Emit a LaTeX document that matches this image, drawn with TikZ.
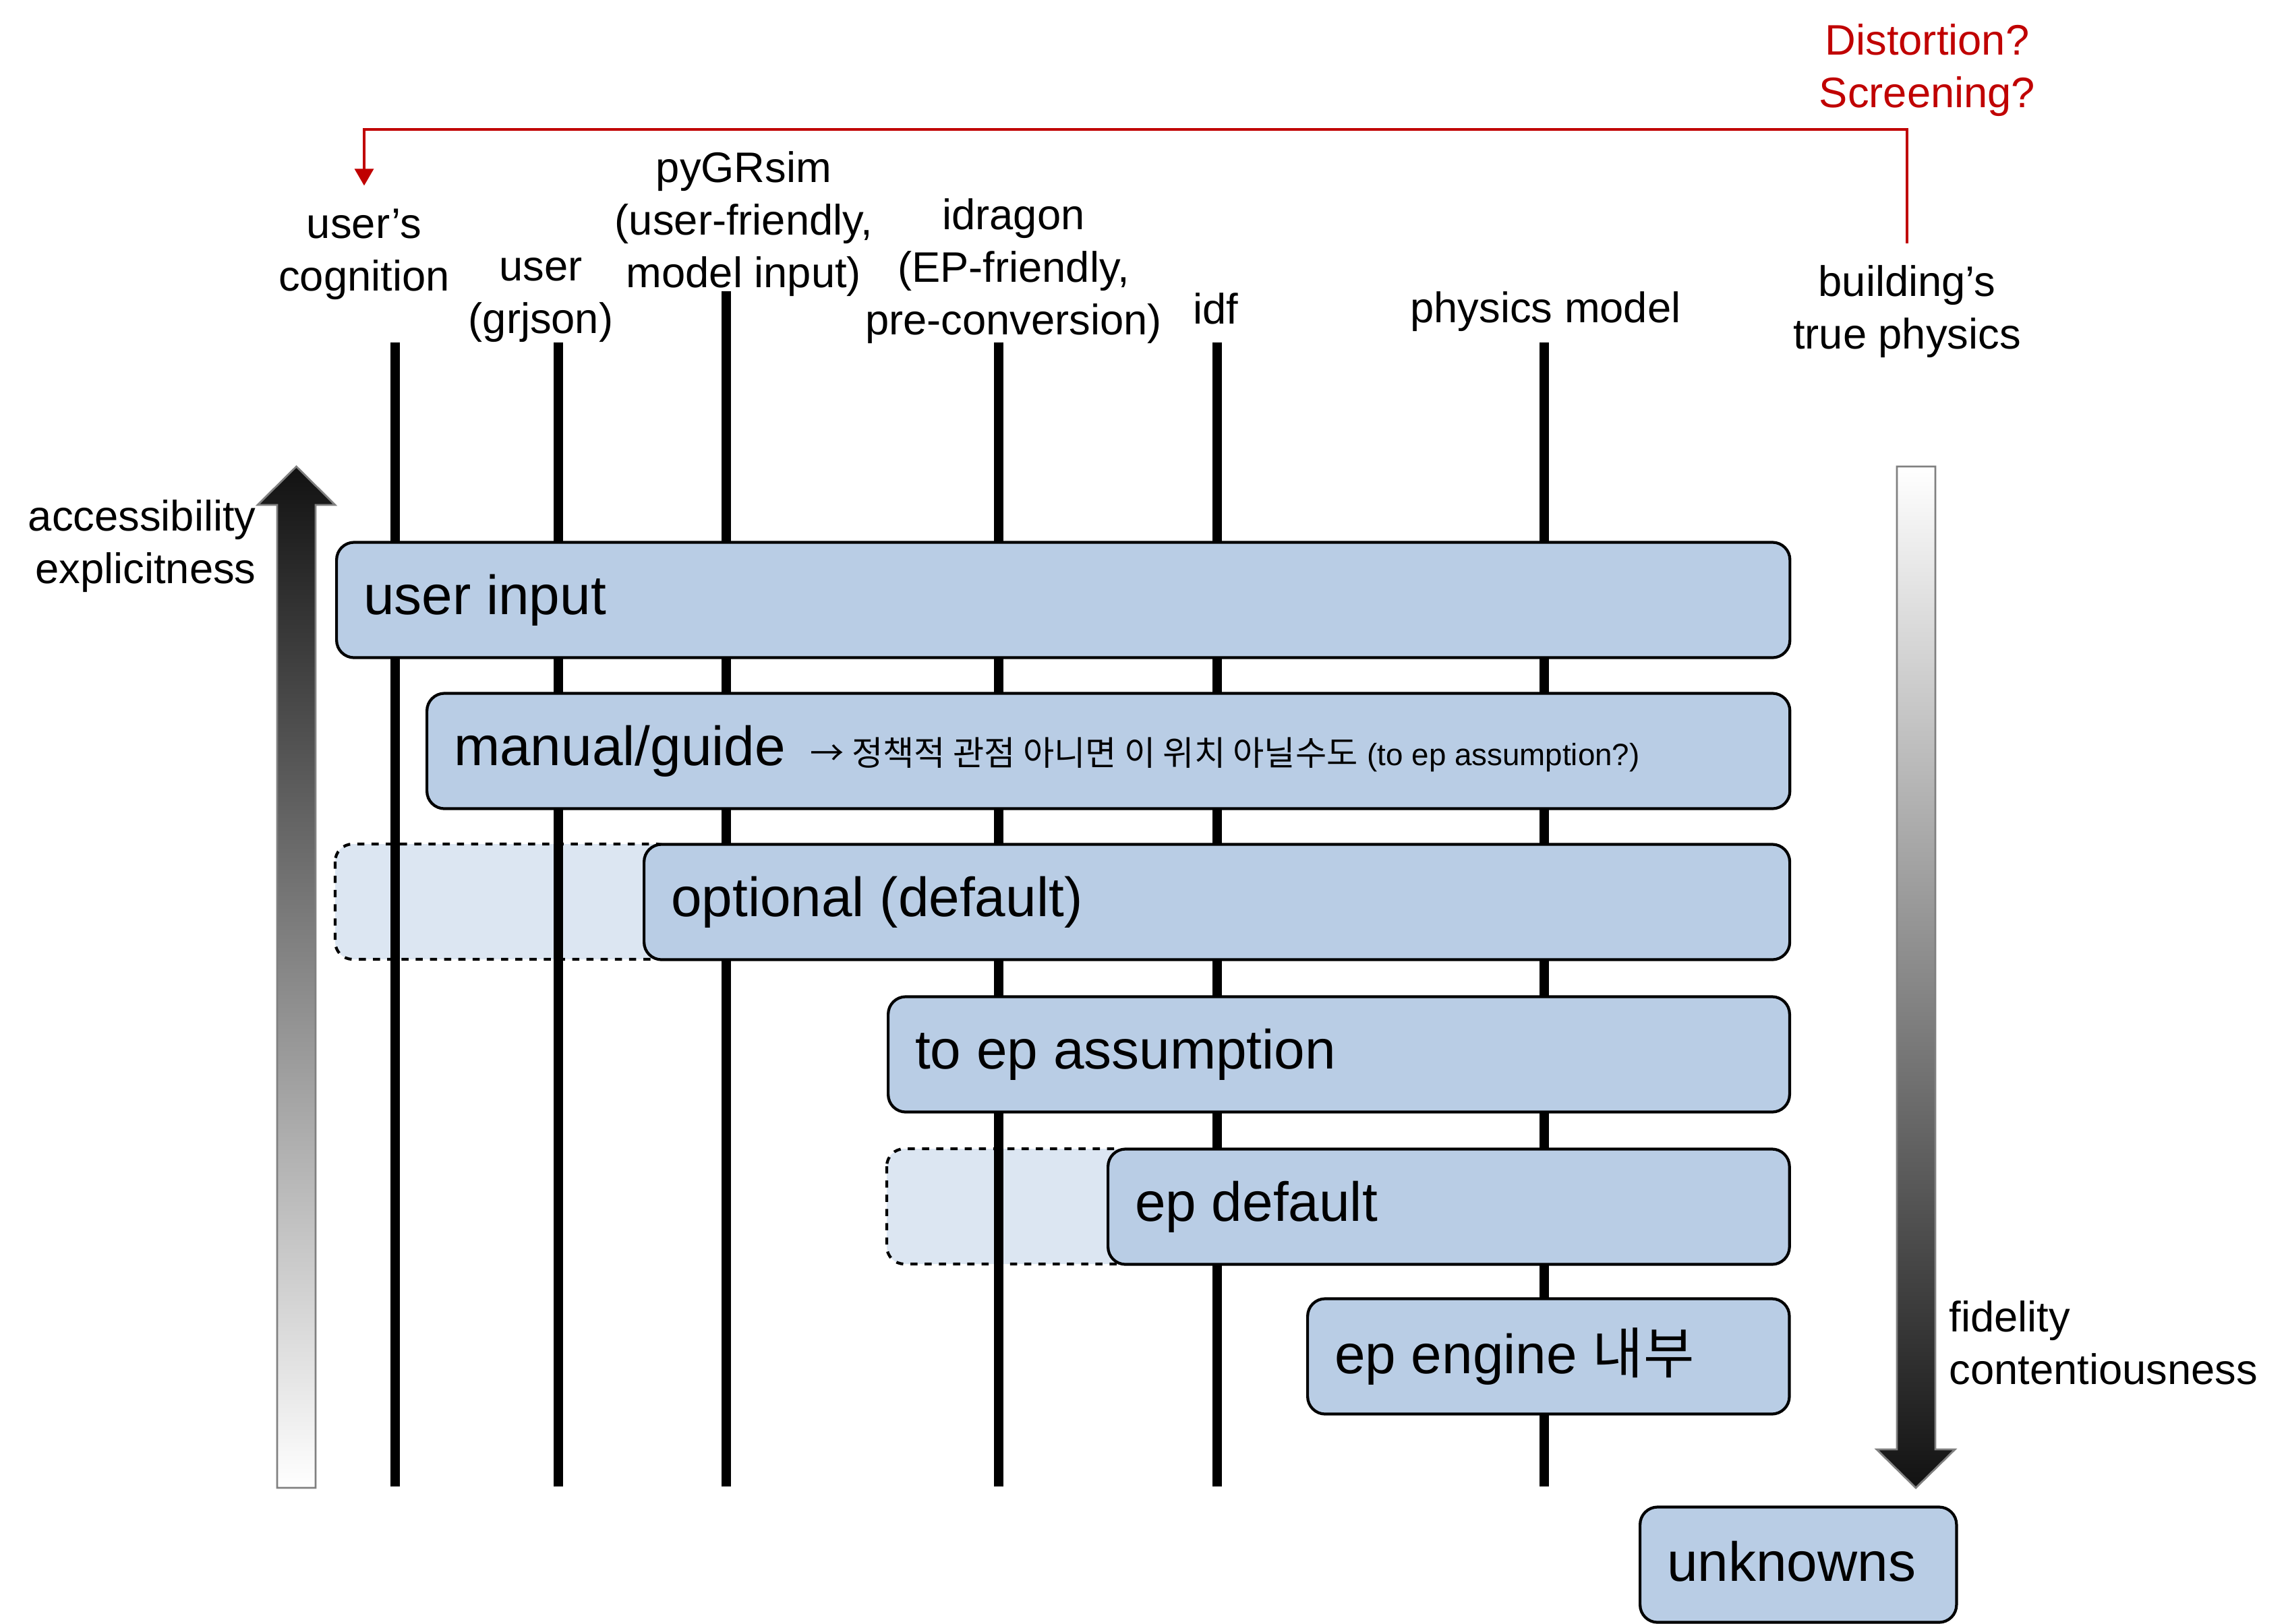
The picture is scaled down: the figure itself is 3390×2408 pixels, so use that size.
\documentclass[tikz,border=0pt]{standalone}
\usepackage{fontspec}
\setmainfont{Liberation Sans}
\newfontfamily\krfont{Noto Sans CJK KR}
\usetikzlibrary{arrows.meta}
\usetikzlibrary{positioning}
\definecolor{mbox}{HTML}{B9CDE5}
\definecolor{mghost}{HTML}{DCE6F2}
\definecolor{mred}{HTML}{C00000}
\tikzset{layer/.style = {draw, line width=1.2pt, rounded corners=0.26cm, fill=mbox,
                         anchor=west, minimum height=1.71cm, inner xsep=0.4cm, inner ysep=0pt,
                         align=flush left, font=\fontsize{23.3}{28}\selectfont},
         ghost/.style = {draw, dashed, line width=1.2pt, rounded corners=0.26cm, fill=mghost},
         lifeline/.style = {line width=4pt},
         colname/.style = {align=center, font=\fontsize{18}{22.1}\selectfont},
         feedback/.style = {draw=mred, line width=1pt,
                            -{Triangle[length=0.25cm, width=0.28cm]}}}

\begin{document}
\begin{tikzpicture}[x=0.01cm, y=-0.01cm]
    \useasboundingbox (0, 0) rectangle (3390, 2408);

    % column names
    \node [colname] (cogn) at (540, 377) {user’s\\cognition};
    \node [colname] (usr) at (802, 445) {user\\(grjson)};
    \node [colname] (pygr) at (1103, 332) {pyGRsim\\(user-friendly,\\model input)};
    \node [colname] (idrg) at (1503, 402) {idragon\\(EP-friendly,\\pre-conversion)};
    \node [colname] (idf) at (1803, 458) {idf};
    \node [colname] (phys) at (2292, 462) {physics model};
    \node [colname] (bldg) at (2828, 462) {building’s\\true physics};
    \node [colname, text=mred] (dist) at (2858, 104) {Distortion?\\Screening?};

    \coordinate (fbtop) at (0, 192);
    \draw [feedback] ([yshift=0.2cm]bldg.north) |- (fbtop -| cogn.north)
        -- ([yshift=0.22cm]cogn.north);

    % gradient arrows
    \shade [top color=black!93, bottom color=white, draw=gray, line width=0.8pt]
        (411, 2207) -- (411, 749) -- (382, 749) -- (439.5, 692) -- (497, 749)
        -- (468, 749) -- (468, 2207) -- cycle;
    \shade [top color=white, bottom color=black!93, draw=gray, line width=0.8pt]
        (2813, 692) -- (2813, 2150) -- (2783, 2150) -- (2841, 2207) -- (2899, 2150)
        -- (2870, 2150) -- (2870, 692) -- cycle;

    \node [colname, anchor=east, align=right] (acc) at (392, 810) {accessibility\\explicitness};
    \node [colname, anchor=west, align=left] (fid) at (2878, 1992) {fidelity\\contentiousness};

    % dashed extents
    \draw [ghost] (497, 1252) rectangle (1000, 1423);
    \draw [ghost] (1315, 1704) rectangle (1680, 1875);

    \foreach \x in {586, 828, 1481, 1805, 2290}
        \draw [lifeline] (\x, 508) -- (\x, 2205);
    \draw [lifeline] (1077, 432) -- (1077, 2205);

    % layers
    \node [layer, text width=20.74cm] (userin) at (497, 890) {user input};
    \node [layer, text width=19.40cm] (manual) at (631, 1114)
        {manual/guide {\fontsize{14.3}{16}\selectfont\ {\krfont → 정책적 관점 아니면 이 위치 아닐수도}
         \fontsize{13}{16}\selectfont(to ep assumption?)}};
    \node [layer, text width=16.18cm] (optional) at (953, 1338) {optional (default)};
    \node [layer, text width=12.56cm] (toep) at (1315, 1564) {to ep assumption};
    \node [layer, text width=9.30cm] (epdef) at (1641, 1790) {ep default};
    \node [layer, text width=6.34cm] (engine) at (1937, 2012) {ep engine {\krfont 내부}};
    \node [layer, text width=3.89cm] (unknown) at (2430, 2321) {\raisebox{0.1cm}{unknowns}};
\end{tikzpicture}
\end{document}
